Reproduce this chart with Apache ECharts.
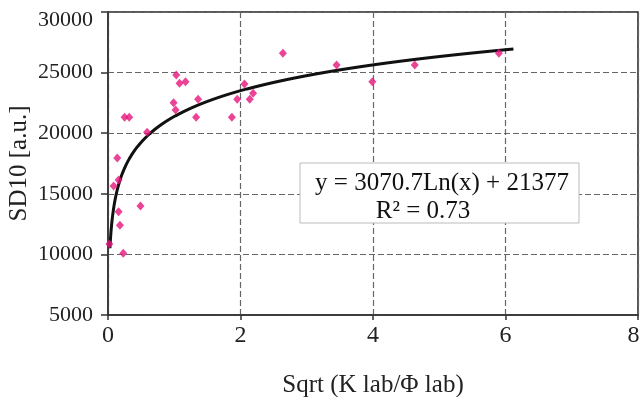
<!DOCTYPE html>
<html>
<head>
<meta charset="utf-8">
<script src="https://cdn.jsdelivr.net/npm/echarts@6/dist/echarts.min.js"></script>
<style>html,body{margin:0;padding:0;background:#fff}#c{width:640px;height:397px}</style>
</head>
<body>
<div id="c"></div>
<script>
// Scatter data
var xValues = [0.02, 0.085, 0.14, 0.16, 0.16, 0.18, 0.23, 0.25, 0.32, 0.49, 0.59, 0.99, 1.02, 1.03, 1.08, 1.17, 1.33, 1.36, 1.87, 1.95, 2.06, 2.14, 2.19, 2.64, 3.45, 3.99, 4.63, 5.90];
var yValues = [10850, 15650, 17950, 16140, 13520, 12400, 10090, 21310, 21310, 13990, 20070, 22520, 21910, 24800, 24120, 24250, 21310, 22800, 21310, 22800, 24060, 22800, 23290, 26590, 25630, 24250, 25630, 26590];
// Trendline as printed on the chart: y = a*ln(x) + b, drawn over x range
var trendCoef = [3070.7, 21377];
var trendRange = [0.029, 6.12];
var xTicks = [0, 2, 4, 6, 8];
var yTicks = [5000, 10000, 15000, 20000, 25000, 30000];
var equationText = ['y = 3070.7Ln(x) + 21377', 'R\u00b2 = 0.73'];

var scatterData = xValues.map(function (x, i) { return [x, yValues[i]]; });
var trendData = [];
var n = 200;
for (var i = 0; i <= n; i++) {
  var lx = Math.log(trendRange[0]) + (Math.log(trendRange[1]) - Math.log(trendRange[0])) * i / n;
  var x = Math.exp(lx);
  trendData.push([x, trendCoef[0] * Math.log(x) + trendCoef[1]]);
}

var font = '"Liberation Serif", "Times New Roman", serif';
var chart = echarts.init(document.getElementById('c'), null, {renderer: 'canvas'});
chart.setOption({
  animation: false,
  backgroundColor: '#fff',
  grid: {left: 108, right: 2, top: 12, bottom: 82, containLabel: false, outerBoundsMode: 'none',
    show: true, borderColor: '#222', borderWidth: 1.5, backgroundColor: 'transparent'},
  xAxis: {
    type: 'value', min: xTicks[0], max: xTicks[xTicks.length - 1], interval: 2,
    name: 'Sqrt (K lab/\u03a6 lab)', nameLocation: 'middle', nameGap: 58, nameMoveOverlap: false,
    nameTextStyle: {fontFamily: font, fontSize: 25, color: '#222'},
    axisLine: {lineStyle: {color: '#333', width: 1.5}},
    axisTick: {show: true, length: 5, inside: false, lineStyle: {color: '#333', width: 1.5}},
    axisLabel: {fontFamily: font, fontSize: 24, color: '#222', margin: 9,
      formatter: function (v) {
        if (xTicks.indexOf(v) < 0) return '';
        return v === xTicks[xTicks.length - 1] ? '{last|' + v + '}' : String(v);
      },
      rich: {last: {fontFamily: font, fontSize: 24, color: '#222', padding: [0, 9, 0, 0]}}},
    splitLine: {show: true, lineStyle: {color: '#666', type: [6, 3], width: 1.2}}
  },
  yAxis: {
    type: 'value', min: yTicks[0], max: yTicks[yTicks.length - 1], interval: 5000,
    name: 'SD10 [a.u.]', nameLocation: 'middle', nameRotate: 90, nameGap: 76, nameMoveOverlap: false,
    nameTextStyle: {fontFamily: font, fontSize: 25, color: '#222'},
    axisLine: {show: true, lineStyle: {color: '#333', width: 1.5}},
    axisTick: {show: true, length: 7, lineStyle: {color: '#333', width: 1.5}},
    axisLabel: {fontFamily: font, fontSize: 22, color: '#222', margin: 15,
      formatter: function (v) {
        return v === yTicks[yTicks.length - 1] ? '{top|' + v + '}' : String(v);
      },
      rich: {top: {fontFamily: font, fontSize: 22, color: '#222', padding: [16, 0, 0, 0]}}},
    splitLine: {show: true, lineStyle: {color: '#666', type: [6, 3], width: 1.2}}
  },
  series: [
    {type: 'line', data: trendData, showSymbol: false, symbol: 'none', smooth: false,
      lineStyle: {color: '#111', width: 3}, z: 2, silent: true},
    {type: 'scatter', data: scatterData, symbol: 'diamond', symbolSize: [8, 9],
      itemStyle: {color: '#e6157c'}, z: 3}
  ],
  graphic: [
    {type: 'rect', shape: {x: 300, y: 163, width: 279, height: 60},
      style: {fill: '#fff', stroke: '#bbb', lineWidth: 1}, z: 10},
    {type: 'text', x: 442, y: 183, z: 11,
      style: {text: equationText[0], fontFamily: font, fontSize: 25, fill: '#111', textAlign: 'center', textVerticalAlign: 'middle'}},
    {type: 'text', x: 423, y: 211, z: 11,
      style: {text: equationText[1], fontFamily: font, fontSize: 25, fill: '#111', textAlign: 'center', textVerticalAlign: 'middle'}}
  ]
});
</script>
</body>
</html>
